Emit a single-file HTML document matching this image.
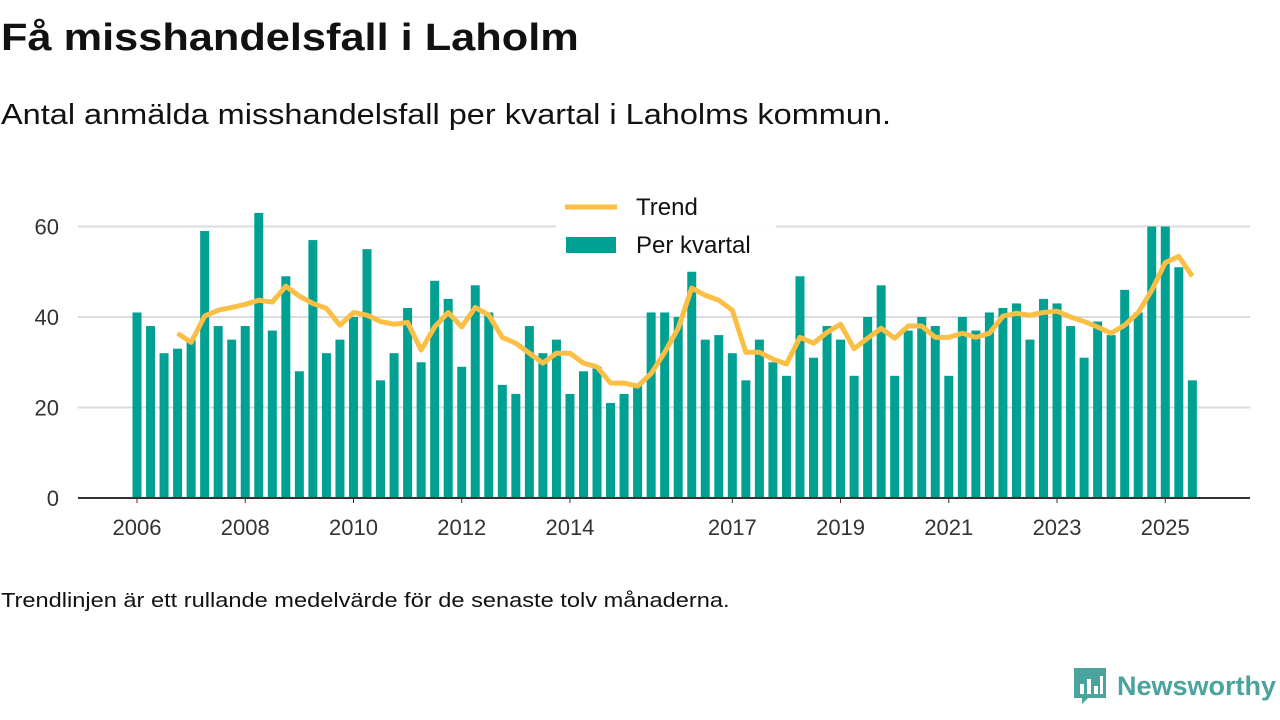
<!DOCTYPE html>
<html><head><meta charset="utf-8">
<style>
body{margin:0;width:1280px;height:720px;background:#fff;font-family:"Liberation Sans","DejaVu Sans",sans-serif;color:#111;position:relative;overflow:hidden}
#title{position:absolute;left:1px;top:17px;font-size:38px;font-weight:bold;margin:0;transform:scaleX(1.14);transform-origin:left top;white-space:nowrap}
#sub{position:absolute;left:1px;top:99px;font-size:29px;transform:scaleX(1.12);transform-origin:left top;white-space:nowrap}
#foot{position:absolute;left:1px;top:590px;font-size:20px;transform:scaleX(1.18);transform-origin:left top;white-space:nowrap}
#logo{position:absolute;left:1072px;top:666px;display:flex;align-items:center}
#logo span{font-size:27px;font-weight:bold;color:#4aa39c;margin-left:9px}
svg{position:absolute;left:0;top:0}
</style></head><body>
<h1 id="title">Få misshandelsfall i Laholm</h1>
<div id="sub">Antal anmälda misshandelsfall per kvartal i Laholms kommun.</div>
<div id="foot">Trendlinjen är ett rullande medelvärde för de senaste tolv månaderna.</div>
<div id="logo">
<svg width="36" height="40" style="position:static"><path d="M2 2h32v30h-18l-6 6v-6h-8z" fill="#4aa39c"/><rect x="8" y="18" width="4" height="10" fill="#fff"/><rect x="15" y="13" width="4" height="15" fill="#fff"/><rect x="22" y="20" width="4" height="8" fill="#fff"/><rect x="28" y="10" width="3" height="18" fill="#fff"/></svg>
<span>Newsworthy</span></div>
<svg id="chart" width="1280" height="720"></svg>
<script>
const startYear = 2006;
const quarterly = [41,38,32,33, 35,59,38,35, 38,63,37,49, 28,57,32,35, 40,55,26,32, 42,30,48,44, 29,47,41,25, 23,38,32,35, 23,28,29,21, 23,25,41,41, 40,50,35,36, 32,26,35,30, 27,49,31,38, 35,27,40,47, 27,37,40,38, 27,40,37,41, 42,43,35,44, 43,38,31,39, 36,46,41,60, 60,51,26];
const trendStart = 3;
const trend = [36.4,34.4,40.2,41.5,42.1,42.8,43.7,43.3,46.8,44.6,43,41.9,38.2,41,40.4,39,38.4,38.8,32.7,37.8,41,37.8,42.1,40.4,35.5,34.2,32,29.8,32,32,29.8,29,25.4,25.4,24.7,27.5,32.2,37.5,46.4,44.8,43.7,41.5,32.2,32.2,30.7,29.6,35.5,34.2,36.6,38.4,33,35.3,37.5,35.3,38,38,35.5,35.5,36.4,35.5,36.4,40.2,40.8,40.4,41,41.3,40,39,37.8,36.4,38.2,41,45.9,52,53.4,49];
const yTicks = [0,20,40,60];
const xTickYears = [2006,2008,2010,2012,2014,2017,2019,2021,2023,2025];

const NS="http://www.w3.org/2000/svg", svg=document.getElementById('chart');
const x0=137, step=13.53, y0=498, ppu=4.525;
const xq=i=>x0+i*step, y=v=>y0-v*ppu;
function mk(t,a,p){const e=document.createElementNS(NS,t);for(const k in a)e.setAttribute(k,a[k]);(p||svg).appendChild(e);return e;}
yTicks.forEach(v=>{
  if(v>0){const g=mk('line',{x1:78,x2:1250,y1:y(v),y2:y(v),stroke:'#dcdcdc','stroke-width':2});
  
  }
  const t=mk('text',{x:59,y:y(v)+8,'text-anchor':'end','font-size':22,fill:'#333'});t.textContent=v;
  
  
});
quarterly.forEach((v,i)=>{
  const r=mk('rect',{x:xq(i)-4.5,y:y(v),width:9,height:v*ppu,fill:'#00a092'});
  
  
});
const ax=mk('line',{x1:78,x2:1250,y1:y0,y2:y0,stroke:'#333','stroke-width':2});


xTickYears.forEach(yr=>{
  const i=(yr-startYear)*4;
  const tk=mk('line',{x1:xq(i),x2:xq(i),y1:y0,y2:y0+5,stroke:'#333','stroke-width':1});
  
  
  const t=mk('text',{x:xq(i),y:535,'text-anchor':'middle','font-size':22,fill:'#333'});t.textContent=yr;
  
  
});
const pl=mk('polyline',{points:trend.map((v,j)=>xq(j+trendStart)+','+y(v)).join(' '),fill:'none',stroke:'#fbbf45','stroke-width':5,'stroke-linejoin':'round'});


const lg=mk('g',{});


mk('rect',{x:556,y:190,width:220,height:72,fill:'#fff','fill-opacity':0.9},lg);
const l1=mk('line',{x1:565,x2:617,y1:207,y2:207,stroke:'#fbbf45','stroke-width':5},lg);


const t1=mk('text',{x:636,y:215,'font-size':24,fill:'#111'},lg);t1.textContent='Trend';


const r2=mk('rect',{x:566,y:237,width:50,height:16,fill:'#00a092'},lg);


const t2=mk('text',{x:636,y:253,'font-size':24,fill:'#111'},lg);t2.textContent='Per kvartal';


</script>
</body></html>
